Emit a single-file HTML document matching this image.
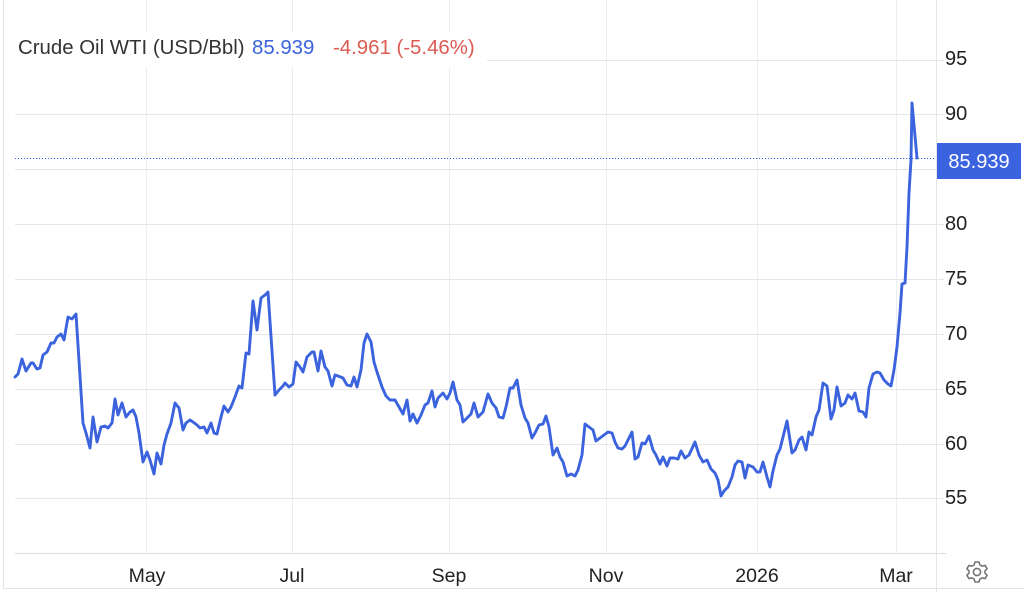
<!DOCTYPE html>
<html><head><meta charset="utf-8">
<style>
html,body{margin:0;padding:0;background:#fff;}
body{width:1024px;height:592px;overflow:hidden;font-family:"Liberation Sans",Arial,sans-serif;}
svg{display:block;}
</style></head>
<body>
<svg width="1024" height="592" viewBox="0 0 1024 592" xmlns="http://www.w3.org/2000/svg">
<rect width="1024" height="592" fill="#fff"/>
<!-- outer borders -->
<line x1="3.5" y1="0" x2="3.5" y2="589" stroke="#e4e4e4" stroke-width="1"/>
<line x1="3" y1="588.5" x2="1024" y2="588.5" stroke="#e4e4e4" stroke-width="1"/>
<line x1="936.5" y1="0" x2="936.5" y2="592" stroke="#e6e6e6" stroke-width="1"/>
<!-- vertical grid -->
<g stroke="#e8eef3" stroke-width="1">
<line x1="146.5" y1="0" x2="146.5" y2="553"/>
<line x1="292.5" y1="0" x2="292.5" y2="553"/>
<line x1="449.5" y1="0" x2="449.5" y2="553"/>
<line x1="606.5" y1="0" x2="606.5" y2="553"/>
<line x1="757.5" y1="0" x2="757.5" y2="553"/>
<line x1="896.5" y1="0" x2="896.5" y2="553"/>
</g>
<!-- horizontal grid -->
<g stroke="#e6e6e6" stroke-width="1">
<line x1="15" y1="60.5" x2="944" y2="60.5"/>
<line x1="15" y1="114.5" x2="944" y2="114.5"/>
<line x1="15" y1="169.5" x2="944" y2="169.5"/>
<line x1="15" y1="224.5" x2="944" y2="224.5"/>
<line x1="15" y1="279.5" x2="944" y2="279.5"/>
<line x1="15" y1="334.5" x2="944" y2="334.5"/>
<line x1="15" y1="389.5" x2="944" y2="389.5"/>
<line x1="15" y1="444.5" x2="944" y2="444.5"/>
<line x1="15" y1="498.5" x2="944" y2="498.5"/>
</g>
<line x1="15" y1="553.5" x2="946" y2="553.5" stroke="#dcdcdc" stroke-width="1"/>
<!-- legend background -->
<rect x="13" y="32" width="474" height="35" fill="#fff"/>
<!-- dotted last price line -->
<line x1="15" y1="158.5" x2="936" y2="158.5" stroke="#3a62dc" stroke-width="1" stroke-dasharray="1.2,1.8"/>
<!-- series -->
<polyline fill="none" stroke="#3b63dd" stroke-width="2.9" stroke-linejoin="round" stroke-linecap="round" points="
15,377 18,374 22,359 26,371 31,363 33,363 37,369 40,368 43,355 47,352 51,343 54,343 57,337 61,334 64,340 68,317 72,319 76,314
83,423 86,433 90,448 93,417 97,442 101,427 105,426 108,428 112,423 115,399 118,415 122,403 126,417 130,412 133,410 136,417 139,433
143,462 147,452 150,460 154,474 157,453 161,464 164,445 167,434 171,423 175,403 179,408 183,430 186,423 190,420 193,422 197,425
200,428 204,427 207,433 211,423 214,433 217,434 221,417 224,406 228,412 231,407 235,397 239,386 242,388 246,353 249,354 253,301
257,330 261,298 265,295 268,292 275,395 279,390 283,386 285,383 289,387 293,384 296,362 300,367 303,372 307,357 312,352 314,352
318,371 321,351 325,367 328,371 332,386 335,375 338,376 343,378 347,385 351,386 354,377 357,387 361,370 364,343 367,334 371,342
374,362 377,372 382,387 386,396 390,400 395,400 399,407 403,414 407,400 410,421 413,414 417,423 421,415 425,405 428,403 432,391
435,407 438,398 443,393 447,399 450,393 453,382 457,400 460,405 463,422 467,418 471,414 474,403 478,417 483,412 488,394 492,403
496,408 499,417 503,418 506,407 510,388 513,388 517,380 521,405 525,418 528,423 532,438 535,433 539,425 543,424 546,416 549,427
553,455 557,448 560,457 563,462 567,476 571,474 575,476 578,470 582,455 585,424 589,427 593,430 596,441 600,438 604,435 608,432
612,433 615,442 618,448 622,449 625,446 628,440 632,432 635,459 638,457 642,443 645,444 649,436 653,450 656,455 660,464 663,457
667,466 670,458 674,458 678,459 681,451 685,458 689,455 695,442 699,455 703,462 707,460 711,469 715,473 718,480 721,496 724,491
728,487 732,477 735,465 738,461 742,462 745,478 748,465 753,467 757,472 760,472 763,462 767,477 770,487 773,471 777,455 780,449
783,437 787,421 792,453 795,450 799,440 802,437 806,450 809,432 812,435 816,417 819,410 823,383 827,386 831,419 834,410 837,387
841,406 845,403 848,395 852,399 855,393 859,411 863,412 866,417 869,388 873,374 877,372 880,373 884,380 888,384 891,386 894,370
897,347 900,313 902,284 905,283 907,247 909,193 911,160 912,103 917,158"/>
<!-- legend text -->
<g font-size="20.4" font-family="Liberation Sans, Arial, sans-serif">
<text x="18" y="54" fill="#333">Crude Oil WTI (USD/Bbl)</text>
<text x="252" y="54" fill="#3b63dd">85.939</text>
<text x="333" y="54" fill="#dd5b52">-4.961 (-5.46%)</text>
</g>
<!-- y tick labels -->
<g font-size="20" fill="#222" font-family="Liberation Sans, Arial, sans-serif">
<text x="945" y="65">95</text>
<text x="945" y="120">90</text>
<text x="945" y="230">80</text>
<text x="945" y="285">75</text>
<text x="945" y="340">70</text>
<text x="945" y="395">65</text>
<text x="945" y="450">60</text>
<text x="945" y="504">55</text>
</g>
<!-- price label -->
<rect x="937" y="143" width="84" height="36" fill="#3b63e0"/>
<text x="979" y="168" font-size="20" fill="#fff" text-anchor="middle" font-family="Liberation Sans, Arial, sans-serif">85.939</text>
<!-- x labels -->
<g font-size="19.5" fill="#222" text-anchor="middle" font-family="Liberation Sans, Arial, sans-serif">
<text x="147" y="582">May</text>
<text x="292" y="582">Jul</text>
<text x="449" y="582">Sep</text>
<text x="606" y="582">Nov</text>
<text x="757" y="582">2026</text>
<text x="896" y="582">Mar</text>
</g>
<!-- gear -->
<g transform="translate(977,572)" fill="none" stroke="#777" stroke-width="1.6" stroke-linejoin="round">
<path d="M-2,-10 L2,-10 L2.8,-7.2 L5.3,-5.8 L8.1,-6.6 L10.1,-3.2 L8,-1.2 L8,1.2 L10.1,3.2 L8.1,6.6 L5.3,5.8 L2.8,7.2 L2,10 L-2,10 L-2.8,7.2 L-5.3,5.8 L-8.1,6.6 L-10.1,3.2 L-8,1.2 L-8,-1.2 L-10.1,-3.2 L-8.1,-6.6 L-5.3,-5.8 L-2.8,-7.2 Z"/>
<circle cx="0" cy="0" r="3.6"/>
</g>
</svg>
</body></html>
